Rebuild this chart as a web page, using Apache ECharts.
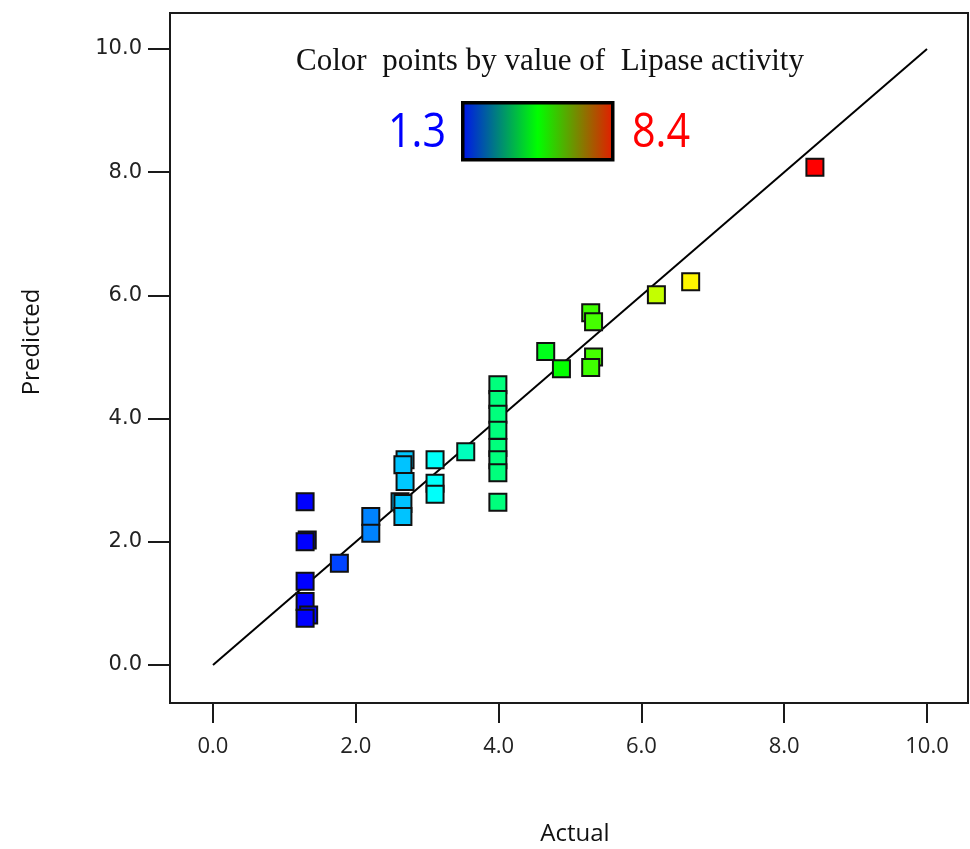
<!DOCTYPE html>
<html>
<head>
<meta charset="utf-8">
<script src="https://cdn.jsdelivr.net/npm/echarts@6/dist/echarts.min.js"></script>
<style>html,body{margin:0;padding:0;background:#fff;}#chart{width:970px;height:849px;}</style>
</head>
<body>
<div id="chart"></div>
<script>
// Data
const actual = [1.29, 1.32, 1.29, 1.29, 1.29, 1.34, 1.29, 1.77, 2.21, 2.21,
  2.69, 2.66, 2.69, 2.62, 2.66, 2.66, 3.11, 3.11, 3.11, 3.54,
  3.99, 3.99, 3.99, 3.99, 3.99, 3.99, 3.99, 3.99,
  4.66, 4.88, 5.29, 5.33, 5.33, 5.29, 6.21, 6.69, 8.43];
const predicted = [2.65, 2.03, 2.00, 1.36, 1.03, 0.81, 0.76, 1.65, 2.41, 2.14,
  3.33, 3.25, 2.98, 2.65, 2.62, 2.41, 3.33, 2.95, 2.77, 3.46,
  4.55, 4.31, 4.07, 3.81, 3.53, 3.33, 3.12, 2.64,
  5.09, 4.81, 5.72, 5.57, 5.00, 4.83, 6.01, 6.22, 8.08];
const fitLine = [[0, 0], [10, 10]];
const tickValues = [0, 2, 4, 6, 8, 10];
const colorMin = 1.3;
const colorMax = 8.4;
const titleText = 'Color  points by value of  Lipase activity';

const points = actual.map((a, i) => [a, predicted[i]]);
const chart = echarts.init(document.getElementById('chart'), null, {renderer: 'canvas'});
const narrow = '"Open Sans", "Noto Sans", sans-serif';
const bigNum = '48px "Open Sans", sans-serif';

chart.setOption({
  animation: false,
  backgroundColor: '#fff',
  title: {
    text: titleText,
    left: 545, top: 41, textAlign: 'center',
    textStyle: {fontFamily: '"Liberation Serif", serif', fontWeight: 'normal', fontSize: 31, color: '#111'}
  },
  grid: {left: 170, top: 13, right: 2, bottom: 146, show: true, borderColor: '#1a1a1a', borderWidth: 2,
    containLabel: false, outerBoundsMode: 'none'},
  xAxis: {
    type: 'value', min: -0.602, max: 10.574,
    splitLine: {show: false},
    axisLine: {show: true, onZero: false, lineStyle: {color: '#1a1a1a', width: 2}},
    axisTick: {show: true, customValues: tickValues, length: 20, lineStyle: {color: '#1a1a1a', width: 2}},
    axisLabel: {customValues: tickValues, margin: 33, formatter: v => v.toFixed(1), fontFamily: narrow, fontSize: 22, color: '#222'},
    name: 'Actual', nameLocation: 'middle', nameGap: 119,
    nameTextStyle: {fontFamily: narrow, fontSize: 24, color: '#111', padding: [0, 0, 0, 12]}
  },
  yAxis: {
    type: 'value', min: -0.617, max: 10.584,
    splitLine: {show: false},
    axisLine: {show: true, onZero: false, lineStyle: {color: '#1a1a1a', width: 2}},
    axisTick: {show: true, customValues: tickValues, length: 22, lineStyle: {color: '#1a1a1a', width: 2}},
    axisLabel: {customValues: tickValues, margin: 28, formatter: v => v.toFixed(1), fontFamily: '"DejaVu Sans", sans-serif', fontSize: 21, color: '#222'},
    name: 'Predicted', nameLocation: 'middle', nameGap: 126,
    nameTextStyle: {fontFamily: narrow, fontSize: 24, color: '#111', padding: [0, 0, 0, 32]}
  },
  visualMap: {
    show: false, type: 'continuous', dimension: 0, seriesIndex: 1,
    min: colorMin, max: colorMax,
    inRange: {color: ['#0000ff', '#00ffff', '#00ff00', '#ffff00', '#ff0000']}
  },
  graphic: [
    {
      type: 'rect', left: 461, top: 101, z: 10,
      shape: {width: 150, height: 57},
      style: {
        fill: new echarts.graphic.LinearGradient(0, 0, 1, 0, [
          {offset: 0, color: '#0010ee'},
          {offset: 0.5, color: '#00ff00'},
          {offset: 1, color: '#e81800'}
        ]),
        stroke: '#000', lineWidth: 3.5
      }
    },
    {
      type: 'text', x: 388, y: 109, scaleX: 0.86, z: 10,
      style: {text: colorMin.toFixed(1), fill: '#0000ff', font: bigNum}
    },
    {
      type: 'text', x: 632, y: 109, scaleX: 0.86, z: 10,
      style: {text: colorMax.toFixed(1), fill: '#ff0000', font: bigNum}
    }
  ],
  series: [
    {
      type: 'line', data: fitLine, symbol: 'none', silent: true, z: 1,
      lineStyle: {color: '#000', width: 2}
    },
    {
      type: 'scatter', data: points, symbol: 'rect', symbolSize: 17, z: 2,
      itemStyle: {borderColor: '#111', borderWidth: 2, opacity: 1}
    }
  ]
});
</script>
</body>
</html>
